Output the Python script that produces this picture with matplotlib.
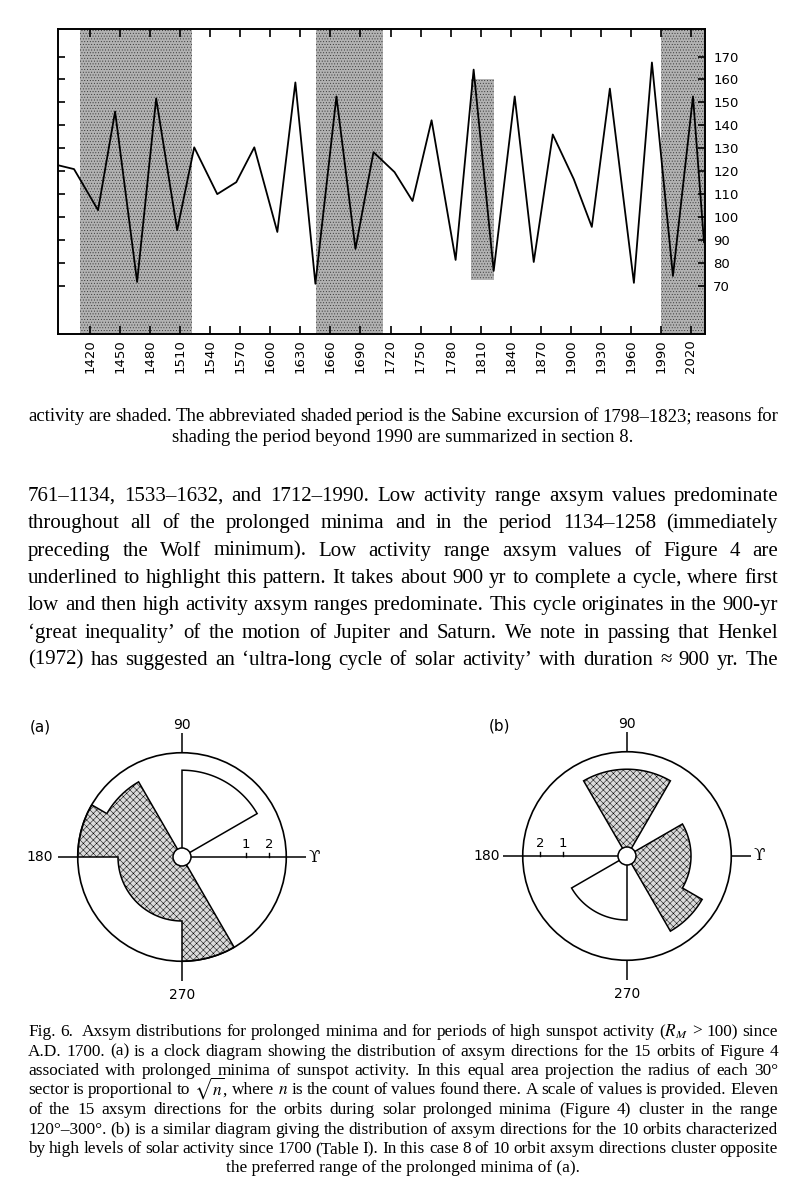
import numpy as np
import matplotlib
matplotlib.use("Agg")
import matplotlib.pyplot as plt
from matplotlib.transforms import Affine2D
from matplotlib.patches import Polygon, Circle

plt.rcParams["mathtext.fontset"] = "stix"
plt.rcParams["hatch.color"] = "#303030"
plt.rcParams["hatch.linewidth"] = 0.35

W, H = 806, 1200
SERIF = ["Liberation Serif", "DejaVu Serif"]

# top panel: values
years = [1388, 1404, 1428, 1445, 1467, 1486, 1507, 1524, 1547, 1566, 1584, 1607,
         1625, 1645, 1666, 1685, 1703, 1724, 1742, 1761, 1785, 1803, 1823, 1844,
         1863, 1882, 1903, 1921, 1939, 1963, 1981, 2002, 2022, 2033]
values = [122.6, 120.9, 103, 146, 71.7, 151.7, 94.3, 130.4, 110, 115.2, 130.4, 93.5,
          158.7, 70.9, 152.6, 86.1, 128.3, 119.6, 107, 142.2, 81.3, 164.3, 76.5, 152.6,
          80.4, 136, 116.5, 95.7, 156, 71.3, 167.4, 74.3, 152.6, 89]
minima_spans = [(1410, 1522), (1646, 1712), (1990, 2040)]
sabine_span = (1800, 1823)
sabine_range = (72.5, 160)
year_ticks = list(range(1420, 2021, 30))
value_ticks = list(range(70, 171, 10))

# clock diagrams: counts per 30 deg sector, counter-clockwise from 0 deg
sector_edges = list(range(0, 361, 30))
counts_a = [0, 2, 2, 0, 2, 3, 1, 1, 1, 3, 0, 0]
counts_b = [1, 0, 2, 2, 0, 0, 0, 1, 1, 0, 2, 1]
shaded_a = [0, 0, 0, 0, 1, 1, 1, 1, 1, 1, 0, 0]
shaded_b = [1, 0, 1, 1, 0, 0, 0, 0, 0, 0, 1, 1]
scale_counts = [1, 2]

chart_gray = "#b2b2b2"
clock_gray = "#dadada"

caption_top = [
    "activity are shaded. The abbreviated shaded period is the Sabine excursion of 1798–1823; reasons for",
    "shading the period beyond 1990 are summarized in section 8.",
]
body = [
    "761–1134, 1533–1632, and 1712–1990. Low activity range axsym values predominate",
    "throughout all of the prolonged minima and in the period 1134–1258 (immediately",
    "preceding the Wolf minimum). Low activity range axsym values of Figure 4 are",
    "underlined to highlight this pattern. It takes about 900 yr to complete a cycle, where first",
    "low and then high activity axsym ranges predominate. This cycle originates in the 900-yr",
    "‘great inequality’ of the motion of Jupiter and Saturn. We note in passing that Henkel",
    "(1972) has suggested an ‘ultra-long cycle of solar activity’ with duration ≈ 900 yr. The",
]
caption_bottom = [
    "Fig. 6.  Axsym distributions for prolonged minima and for periods of high sunspot activity ($R_M$ > 100) since",
    "A.D. 1700. (a) is a clock diagram showing the distribution of axsym directions for the 15 orbits of Figure 4",
    "associated with prolonged minima of sunspot activity. In this equal area projection the radius of each 30°",
    "sector is proportional to $\\sqrt{n}$, where $n$ is the count of values found there. A scale of values is provided. Eleven",
    "of the 15 axsym directions for the orbits during solar prolonged minima (Figure 4) cluster in the range",
    "120°–300°. (b) is a similar diagram giving the distribution of axsym directions for the 10 orbits characterized",
    "by high levels of solar activity since 1700 (Table I). In this case 8 of 10 orbit axsym directions cluster opposite",
    "the preferred range of the prolonged minima of (a).",
]

fig = plt.figure(figsize=(W / 100, H / 100), dpi=100)
renderer = fig.canvas.get_renderer()
pix = Affine2D().scale(1 / W, -1 / H).translate(0, 1) + fig.transFigure

# ---- top chart ----
ax = fig.add_axes([58 / W, 1 - 334 / H, 647 / W, 305 / H])
for a, b in minima_spans:
    ax.axvspan(a, b, facecolor=chart_gray, hatch="......", lw=0, zorder=0)
ax.fill_between(sabine_span, sabine_range[0], sabine_range[1], facecolor=chart_gray,
                hatch="......", lw=0, zorder=0)
ax.plot(years, values, color="black", lw=1.3)
ax.set_xlim(1388, 2034)
ax.set_ylim(49, 182)
ax.set_xticks(year_ticks)
ax.set_yticks(value_ticks)
ax.tick_params(axis="x", direction="in", top=True, bottom=True, length=6, width=1.2,
               labelrotation=90, labelsize=9.5, pad=4)
ax.tick_params(axis="y", direction="in", left=True, right=True, labelleft=False,
               labelright=True, length=5, width=1.2, labelsize=9.5, pad=6)
for s in ax.spines.values():
    s.set_linewidth(1.4)


# ---- text helpers ----
def widths(words, size):
    out = []
    for w in words:
        if not w:
            out.append(0.0)
            continue
        t = fig.text(0, 0, w, fontsize=size, family=SERIF)
        out.append(t.get_window_extent(renderer).width)
        t.remove()
    return out


def text_block(lines, baselines, base, center_last, x0=28, x1=778, gap=3.5):
    just = lines[:-1] if center_last else lines
    factor = 1.0
    for ln in just:
        ws = widths(ln.split(" "), base)
        factor = min(factor, (x1 - x0 - gap * (len(ws) - 1)) / sum(ws))
    size = base * factor
    for i, (ln, y) in enumerate(zip(lines, baselines)):
        if center_last and i == len(lines) - 1:
            fig.text((x0 + x1) / 2, y, ln, transform=pix, fontsize=size, family=SERIF,
                     ha="center", va="baseline")
            continue
        words = ln.split(" ")
        ws = widths(words, size)
        g = (x1 - x0 - sum(ws)) / (len(words) - 1)
        x = x0
        for w, wd in zip(words, ws):
            if w:
                fig.text(x, y, w, transform=pix, fontsize=size, family=SERIF, va="baseline")
            x += wd + g


text_block(caption_top, [421, 442], 14, True)
text_block(body, [501 + 27.33 * i for i in range(7)], 15, False)
text_block(caption_bottom, [1036 + 19.5 * i for i in range(8)], 12.5, True)

# ---- clock diagrams ----
hub, k = 9, 55


def radius(n):
    return hub + k * np.sqrt(n)


r_outer = radius(3)


def runs(counts, shaded):
    n = len(counts)
    out = []
    for s in range(n):
        if counts[s] == 0:
            continue
        p = s - 1
        if counts[p] > 0 and shaded[p] == shaded[s]:
            continue
        run = [s]
        j = (s + 1) % n
        while counts[j] > 0 and shaded[j] == shaded[s] and j != s:
            run.append(j)
            j = (j + 1) % n
        out.append(run)
    return out


def clock(cx, cy, counts, shaded, scale_side, tag, tag_x, left_x):
    cax = fig.add_axes([(cx - 150) / W, 1 - (cy + 150) / H, 300 / W, 300 / H])
    cax.set_xlim(-150, 150)
    cax.set_ylim(-150, 150)
    cax.axis("off")
    for run in runs(counts, shaded):
        pts = [(0, 0)]
        for i in run:
            th = np.radians(np.linspace(sector_edges[i], sector_edges[i + 1], 30))
            r = radius(counts[i])
            pts += list(zip(r * np.cos(th), r * np.sin(th)))
        pts.append((0, 0))
        if shaded[run[0]]:
            patch = Polygon(pts, closed=True, facecolor=clock_gray, edgecolor="black",
                            hatch="xxxxx", lw=1.1, joinstyle="miter")
        else:
            patch = Polygon(pts, closed=True, facecolor="white", edgecolor="black",
                            lw=1.1, joinstyle="miter")
        cax.add_patch(patch)
    cax.add_patch(Circle((0, 0), r_outer, fill=False, ec="black", lw=1.2))
    cax.add_patch(Circle((0, 0), hub, fc="white", ec="black", lw=1.1, zorder=5))
    for ang in (0, 90, 180, 270):
        r0 = hub if ang == scale_side else r_outer
        c, s = np.cos(np.radians(ang)), np.sin(np.radians(ang))
        cax.plot([r0 * c, 124 * c], [r0 * s, 124 * s], color="black", lw=1.1,
                 solid_capstyle="butt")
    sgn = np.cos(np.radians(scale_side))
    for n in scale_counts:
        x = sgn * radius(n)
        cax.plot([x, x], [0, 4], color="black", lw=1.0)
        cax.text(x, 6, str(n), ha="center", va="bottom", fontsize=9.5)
    cax.text(0, 132, "90", ha="center", va="center", fontsize=10)
    cax.text(0, -138, "270", ha="center", va="center", fontsize=10)
    cax.text(left_x, 0, "180", ha="right", va="center", fontsize=10)
    cax.text(132, 0, "ϒ", ha="center", va="center", fontsize=12, family="DejaVu Serif")
    cax.text(tag_x, 130, tag, ha="center", va="center", fontsize=11)


clock(182, 857, counts_a, shaded_a, 0, "(a)", -142, -129)
clock(627, 856, counts_b, shaded_b, 180, "(b)", -127, -127)

fig.savefig("out.png", dpi=100)
